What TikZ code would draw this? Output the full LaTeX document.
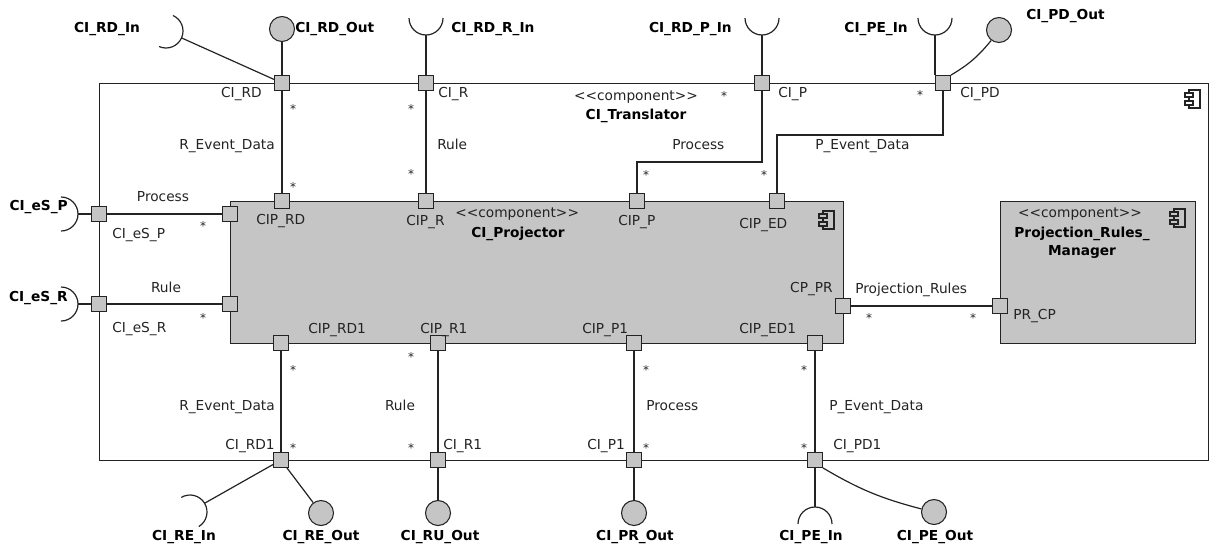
\documentclass[tikz,border=0pt]{standalone}
\usepackage{fontspec}
\setmainfont{DejaVu Sans}
\definecolor{gfill}{RGB}{197,197,197}
\definecolor{ink}{RGB}{35,35,35}
\newcommand\compicon[3]{%
  \draw[ink, line width=0.8pt] (#1-4,#2-9) rectangle (#1+7,#2+9);
  \draw[ink, line width=0.8pt, fill=#3] (#1-8,#2-6) rectangle (#1,#2-2);
  \draw[ink, line width=0.8pt, fill=#3] (#1-8,#2+2) rectangle (#1,#2+6);
}
\newcommand\stereo{<\kern0pt<\kern0pt component\kern0pt>\kern0pt>}
% name, x, y, phi, start, end
\newcommand\socketarc[6]{%
  \coordinate (#1) at ([shift={(#4:12.75pt)}]#2,#3);
  \draw[ink, line width=0.9pt] ([shift={(#5:12.75pt)}]#2,#3) arc[start angle=#5, end angle=#6, radius=12.75pt];
}
\tikzset{
  lbl/.style={inner sep=0pt, text=ink, font=\fontsize{10.3}{12}\selectfont},
  blbl/.style={inner sep=0pt, text=black, font=\fontsize{10.3}{12}\selectfont\bfseries},
  mult/.style={inner sep=0pt, anchor=base, text=ink, font=\fontsize{9}{9}\selectfont},
  port/.style={draw=ink, fill=gfill, line width=0.8pt, minimum size=11pt, inner sep=0pt, shape=rectangle},
  lolli/.style={draw=ink, fill=gfill, line width=0.8pt, minimum size=18.75pt, inner sep=0pt, shape=circle},
  conn/.style={draw=ink, line width=0.9pt},
  comp/.style={draw=ink, line width=1pt, anchor=north west, inner sep=0pt, shape=rectangle}
}
\begin{document}
\begin{tikzpicture}[x=0.75pt, y=-0.75pt]
\useasboundingbox (0,0) rectangle (1212,547);
% boxes
\node[comp, minimum width=831.75pt, minimum height=282.75pt] (translator) at (99,83) {};
\node[comp, fill=gfill, minimum width=459.75pt, minimum height=106.5pt] (projector) at (230,201) {};
\node[comp, fill=gfill, minimum width=146.25pt, minimum height=106.5pt] (manager) at (1000,201) {};
\compicon{1193}{99}{white}
\compicon{827}{220}{gfill}
\compicon{1178}{218}{gfill}
% bend coordinates
\coordinate (bendP) at (700,162);
\coordinate (bendPD) at (860,135);
% connectors (drawn before ports)
\draw[conn] (282,83) -- (282,201);
\draw[conn] (426,83) -- (426,201);
\draw[conn] (762,83) |- (bendP) -| (637,201);
\draw[conn] (943,83) |- (bendPD) -| (777,201);
\draw[conn] (99,214) -- (230,214);
\draw[conn] (99,304) -- (230,304);
\draw[conn] (843,306) -- (1000,306);
\draw[conn] (281,343) -- (281,460);
\draw[conn] (438,343) -- (438,460);
\draw[conn] (634,343) -- (634,460);
\draw[conn] (815,343) -- (815,460);
% ports
\node[port] (cird) at (282,83) {};
\node[port] (cir) at (426,83) {};
\node[port] (cip) at (762,83) {};
\node[port] (cipd) at (943,83) {};
\node[port] (ciprd) at (282,201) {};
\node[port] (cipr) at (426,201) {};
\node[port] (cipp) at (637,201) {};
\node[port] (ciped) at (777,201) {};
\node[port] (cies) at (99,214) {};
\node[port] (ciesr) at (99,304) {};
\node[port] (pesp) at (230,214) {};
\node[port] (pesr) at (230,304) {};
\node[port] (cppr) at (843,306) {};
\node[port] (prcp) at (1000,306) {};
\node[port] (ciprd1) at (281,343) {};
\node[port] (cipr1) at (438,343) {};
\node[port] (cipp1) at (634,343) {};
\node[port] (ciped1) at (815,343) {};
\node[port] (cird1) at (281,460) {};
\node[port] (cir1) at (438,460) {};
\node[port] (cip1) at (634,460) {};
\node[port] (cipd1) at (815,460) {};
% lollipops
\node[lolli] (rdout) at (282,29) {};
\node[lolli] (pdout) at (999,30) {};
\node[lolli] (reout) at (321,513) {};
\node[lolli] (ruout) at (438,513) {};
\node[lolli] (prout) at (634,513) {};
\node[lolli] (peout) at (934,512) {};
% sockets
\socketarc{rdin}{166}{31}{-24}{-114}{66}
\socketarc{rdrin}{426}{18}{-90}{-180}{0}
\socketarc{rdpin}{762}{18}{-90}{-180}{0}
\socketarc{pein}{935}{18}{-90}{-180}{0}
\socketarc{esp}{61}{214}{0}{-90}{90}
\socketarc{esr}{61}{304}{0}{-90}{90}
\socketarc{rein}{190}{512}{31}{-59}{121}
\socketarc{pein2}{815}{524}{90}{0}{180}
% external connectors
\draw[conn] (cird) -- (rdin);
\draw[conn] (cird) -- (rdout);
\draw[conn] (cir) -- (rdrin);
\draw[conn] (cip) -- (rdpin);
\draw[conn] (pein) -- (pein |- cipd.north);
\draw[conn] (cipd.north east) to[bend right=10] (pdout);
\draw[conn] (cies) -- (esp);
\draw[conn] (ciesr) -- (esr);
\draw[conn] (cird1) -- (rein);
\draw[conn] (cird1) -- (reout);
\draw[conn] (cir1) -- (ruout);
\draw[conn] (cip1) -- (prout);
\draw[conn] (cipd1) -- (pein2);
\draw[conn] (cipd1.south east) to[bend right=8] (peout);
% bold labels
\node[blbl, anchor=base] (l1) at (107,32) {CI\_RD\_In};
\node[blbl, anchor=base west] (l2) at (295,32) {CI\_RD\_Out};
\node[blbl, anchor=base west] (l3) at (451,32) {CI\_RD\_R\_In};
\node[blbl, anchor=base east] (l4) at (732,32) {CI\_RD\_P\_In};
\node[blbl, anchor=base east] (l5) at (908,32) {CI\_PE\_In};
\node[blbl, anchor=base west] (l6) at (1026,19) {CI\_PD\_Out};
\node[blbl, anchor=base east] (l7) at (68,210) {CI\_eS\_P};
\node[blbl, anchor=base east] (l8) at (68,301) {CI\_eS\_R};
\node[blbl, anchor=base] (l9) at (184,540) {CI\_RE\_In};
\node[blbl, anchor=base] (l10) at (321,540) {CI\_RE\_Out};
\node[blbl, anchor=base] (l11) at (440,540) {CI\_RU\_Out};
\node[blbl, anchor=base] (l12) at (635,540) {CI\_PR\_Out};
\node[blbl, anchor=base] (l13) at (811,540) {CI\_PE\_In};
\node[blbl, anchor=base] (l14) at (935,540) {CI\_PE\_Out};
% component titles
\node[lbl, anchor=base] (s1) at (636,100) {\stereo};
\node[blbl, anchor=base] (t1) at (636,119) {CI\_Translator};
\node[lbl, anchor=base west] (s2) at (455,217) {\stereo};
\node[blbl, anchor=base west] (t2) at (471,237) {CI\_Projector};
\node[lbl, anchor=base] (s3) at (1080,217) {\stereo};
\node[blbl, anchor=base] (t3) at (1082,237) {Projection\_Rules\_};
\node[blbl, anchor=base] (t3b) at (1082,255) {Manager};
% port labels
\node[lbl, anchor=base east] at (262,97) {CI\_RD};
\node[lbl, anchor=base west] at (438,97) {CI\_R};
\node[lbl, anchor=base west] at (778,97) {CI\_P};
\node[lbl, anchor=base west] at (960,97) {CI\_PD};
\node[lbl, anchor=base west] at (112,238) {CI\_eS\_P};
\node[lbl, anchor=base west] at (112,332) {CI\_eS\_R};
\node[lbl, anchor=base west] at (256,224) {CIP\_RD};
\node[lbl, anchor=base west] at (406,225) {CIP\_R};
\node[lbl, anchor=base west] at (618,225) {CIP\_P};
\node[lbl, anchor=base west] at (739,228) {CIP\_ED};
\node[lbl, anchor=base east] at (833,292) {CP\_PR};
\node[lbl, anchor=base west] at (1013,319) {PR\_CP};
\node[lbl, anchor=base west] at (308,333) {CIP\_RD1};
\node[lbl, anchor=base west] at (420,333) {CIP\_R1};
\node[lbl, anchor=base west] at (582,333) {CIP\_P1};
\node[lbl, anchor=base west] at (739,333) {CIP\_ED1};
\node[lbl, anchor=base east] at (275,449) {CI\_RD1};
\node[lbl, anchor=base west] at (443,449) {CI\_R1};
\node[lbl, anchor=base west] at (587,449) {CI\_P1};
\node[lbl, anchor=base west] at (833,449) {CI\_PD1};
% connector labels
\node[lbl, anchor=base east] at (275,149) {R\_Event\_Data};
\node[lbl, anchor=base west] at (437,149) {Rule};
\node[lbl, anchor=base west] at (672,149) {Process};
\node[lbl, anchor=base west] at (815,149) {P\_Event\_Data};
\node[lbl, anchor=base] at (163,201) {Process};
\node[lbl, anchor=base] at (166,292) {Rule};
\node[lbl, anchor=base west] at (855,293) {Projection\_Rules};
\node[lbl, anchor=base east] at (275,410) {R\_Event\_Data};
\node[lbl, anchor=base] at (400,410) {Rule};
\node[lbl, anchor=base west] at (646,410) {Process};
\node[lbl, anchor=base west] at (829,410) {P\_Event\_Data};
% multiplicities
\foreach \mx/\my in {293/107,293/185,411/107,411/172,724/94,646/173,764/173,920/93,
  203/224,203/316,869/316,973/316,293/368,293/446,411/355,411/446,646/368,646/446,804/368,804/446}
  {\node[mult] at (\mx,\my+6) {*};}
\end{tikzpicture}
\end{document}
